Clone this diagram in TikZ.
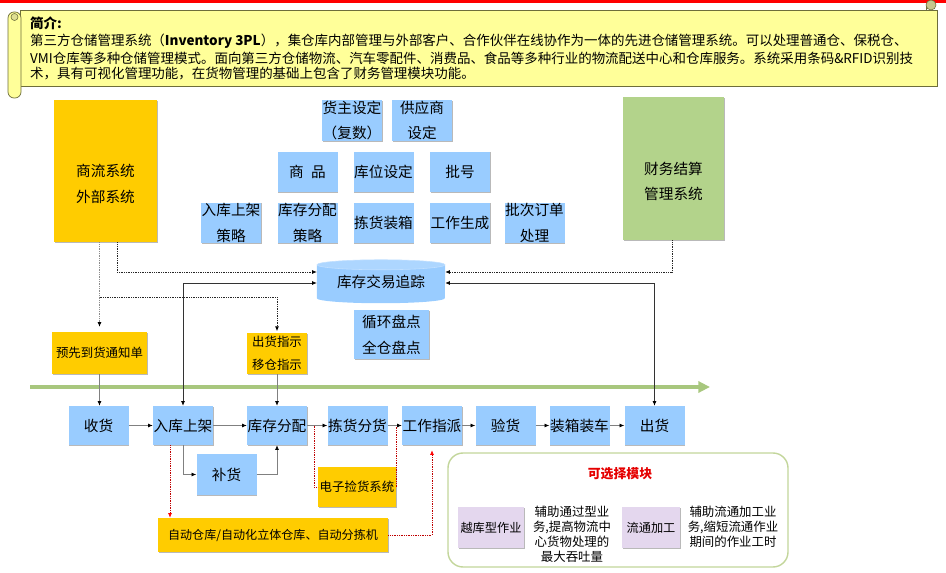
\documentclass[tikz,border=0pt]{standalone}
\usepackage{fontspec}
\setmainfont{Noto Sans CJK SC}
\usetikzlibrary{arrows.meta,shadows,calc,backgrounds}
\definecolor{skyblue}{HTML}{99CCFF}
\definecolor{amber}{HTML}{FFCC00}
\definecolor{leaf}{HTML}{B3D38B}
\definecolor{lilac}{HTML}{E4D7EE}
\definecolor{parchment}{HTML}{FFFF99}
\definecolor{parchmentline}{HTML}{6E6E3A}
\definecolor{flowgreen}{HTML}{A8C77E}
\definecolor{framegreen}{HTML}{C3D69B}
\begin{document}
\begin{tikzpicture}[x=0.3mm,y=-0.3mm,
 >={Latex[length=4pt,width=3.4pt,color=black]},
 blk/.style={inner sep=0pt,align=center,drop shadow={shadow xshift=0.7pt,shadow yshift=-0.7pt,fill=black!50,opacity=0.55}},
 big/.style={align=center,inner sep=0pt,font=\fontsize{12.5}{22}\selectfont},
 bluebox/.style={blk,big,fill=skyblue,minimum width=18mm,minimum height=12.2mm},
 goldbox/.style={blk,fill=amber,font=\fontsize{10.6}{19.6}\selectfont},
 lilacbox/.style={blk,fill=lilac,minimum height=12.3mm,font=\fontsize{10.4}{13}\selectfont},
 note/.style={align=center,inner sep=0pt,font=\fontsize{10.6}{12.8}\selectfont},
 banner/.style={anchor=west,inner sep=0pt,font=\fontsize{11.5}{14}\selectfont},
 link/.style={draw=black!50,line width=0.6pt,->},
 dots/.style={draw=black!85,line width=0.6pt,dash pattern=on 0.6pt off 0.9pt},
 reddots/.style={draw=red!75!black,line width=0.6pt,dash pattern=on 0.6pt off 0.9pt},
 scroll/.style={fill=parchment,draw=parchmentline,line width=0.6pt}]
\useasboundingbox (0,0) rectangle (946,573);
\fill[red] (0,0) rectangle (946,3.5);
% intro scroll
\filldraw[scroll] (20,10) rectangle (937,86);
\filldraw[scroll,rounded corners=1.8mm] (8,12) rectangle (21,98);
\filldraw[fill=parchment!75!gray,draw=parchmentline,line width=0.5pt] (14.5,17) circle[radius=3.5];
\draw[parchmentline,line width=0.5pt] (926,4) -- (926,10);
\filldraw[fill=parchment!55!gray,draw=parchmentline,line width=0.5pt] (931,5) circle[radius=5];
\node[banner,font=\bfseries\fontsize{11.5}{14}\selectfont] (intro) at (30,23) {简介:};
\node[banner] (introa) at (30,41) {第三方仓储管理系统（\textbf{Inventory 3PL}），集仓库内部管理与外部客户、合作伙伴在线协作为一体的先进仓储管理系统。可以处理普通仓、保税仓、};
\node[banner] (introb) at (30,58) {VMI仓库等多种仓储管理模式。面向第三方仓储物流、汽车零配件、消费品、食品等多种行业的物流配送中心和仓库服务。系统采用条码\&RFID识别技};
\node[banner] (introc) at (30,74) {术，具有可视化管理功能，在货物管理的基础上包含了财务管理模块功能。};
% outside systems
\node[blk,fill=amber,minimum width=30.9mm,minimum height=42.6mm] (biz) at (105.5,171) {};
\node[big] (biztxt) at (105.5,184) {商流系统\\外部系统};
\node[blk,fill=leaf,minimum width=30.3mm,minimum height=42.9mm] (fin) at (673.5,168.5) {};
\node[big] (fintxt) at (673.5,181.5) {财务结算\\管理系统};
% master data
\foreach \n/\x/\y/\t in {owner/352/120.5/{货主设定\\（复数）},supp/422/120.5/{供应商\\设定},
  goods/307.5/172/{商\hspace{0.5em}品},locset/383.5/172/库位设定,lot/460/172/批号,
  putrule/231/223/{入库上架\\策略},allocrule/307.5/223/{库存分配\\策略},pack/383.5/223/拣货装箱,
  jobgen/460/223/工作生成,batch/534.5/223/{批次订单\\处理}}
  \node[bluebox] (\n) at (\x,\y) {\t};
\node[big,minimum width=38.4mm,minimum height=9.9mm] (trk) at (381,281.5) {库存交易追踪};
\begin{scope}[on background layer]
\fill[skyblue] (trk.north west) -- (trk.south west) arc[start angle=180,end angle=360,x radius=19.2mm,y radius=1.5mm] -- (trk.north east) -- cycle;
\filldraw[fill=skyblue!80!white,draw=skyblue!60!white,line width=0.5pt] (trk.north) ellipse[x radius=19.2mm,y radius=1.5mm];
\end{scope}
\node[bluebox,minimum width=22.5mm,minimum height=14.7mm] (cyc) at (391.5,334.5) {循环盘点\\全仓盘点};
\node[goldbox,minimum width=28.5mm,minimum height=12.6mm] (asn) at (99.5,353) {预先到货通知单};
\node[goldbox,minimum width=18mm,minimum height=12.3mm] (ship) at (277,353.5) {出货指示\\移仓指示};
% main flow
\coordinate (flowstart) at (30,387);
\coordinate (flowend) at (710,387);
\draw[flowgreen,line width=2.6pt,-{Triangle[length=10pt,width=9.5pt]}] (flowstart) -- (flowend);
\foreach \n/\x/\t in {recv/98.5/收货,put/183/入库上架,alloc/277/库存分配,pick/357.5/拣货分货,
  assign/432/工作指派,check/505.5/验货,load/579.5/装箱装车,out/654.5/出货}
  \node[bluebox,minimum height=11.7mm] (\n) at (\x,425.5) {\t};
\node[bluebox,minimum height=12.3mm] (refill) at (226.5,474.5) {补货};
\node[goldbox,minimum width=23.4mm,minimum height=12mm] (epick) at (357,487) {电子捡货系统};
\node[goldbox,minimum width=69mm,minimum height=10.2mm,font=\fontsize{10.3}{12}\selectfont] (auto) at (273,535) {自动仓库/自动化立体仓库、自动分拣机};
% optional modules
\node[draw=framegreen,line width=1.2pt,rounded corners=4.5mm,fill=white,minimum width=102mm,minimum height=34.2mm] (opt) at (618,510) {};
\node[font=\bfseries\fontsize{11}{13}\selectfont,text=red!90!black] (opttitle) at (620,474) {可选择模块};
\node[lilacbox,minimum width=19.8mm] (cross) at (491,527.5) {越库型作业};
\node[note] (crossnote) at (572,534.5) {辅助通过型业\\务,提高物流中\\心货物处理的\\最大吞吐量};
\node[lilacbox,minimum width=17.4mm] (proc) at (651,527.5) {流通加工};
\node[note] (procnote) at (733,527) {辅助流通加工业\\务,缩短流通作业\\期间的作业工时};
% connectors
\coordinate (fork) at (99.5,297);
\draw[dots,draw=black!45,->,shorten >=1.5mm] (biz.south -| asn.north) -- (asn.north);
\draw[dots,->,shorten >=0.5mm] (fork) -| (ship.north);
\draw[dots,->] ([xshift=3.45mm]biz.south) |- ([yshift=2.85mm]trk.west);
\draw[dots,->] ([xshift=-0.45mm]fin.south) |- ([yshift=2.85mm]trk.east);
\draw[link,draw=black!80,<->] (put.north) |- ([yshift=-0.45mm]trk.west);
\draw[link,draw=black!80,<->] (out.north) |- ([yshift=-0.45mm]trk.east);
\draw[link] (asn.south) -- (asn.south |- recv.north);
\draw[link] (ship.south) -- (alloc.north);
\foreach \a/\b in {recv/put,put/alloc,alloc/pick,pick/assign,assign/check,check/load,load/out}
  \draw[link] (\a) -- (\b);
\draw[link] (put.south) |- (refill.west);
\draw[link] (refill.east) -| (alloc.south);
\draw[reddots] ($(alloc.east)!0.35!(pick.west)$) |- (epick.west);
\draw[reddots] (epick.east) -- (epick.east |- pick.east);
\draw[reddots,-{Latex[length=4pt,width=3.4pt,color=red]}] ([xshift=-3.9mm]put.south) -- ([xshift=-3.9mm]put.south |- auto.north);
\draw[reddots,-{Latex[length=4pt,width=3.4pt,color=red]},shorten >=1.5mm] (auto.east) -| (assign.south);
\end{tikzpicture}
\end{document}
